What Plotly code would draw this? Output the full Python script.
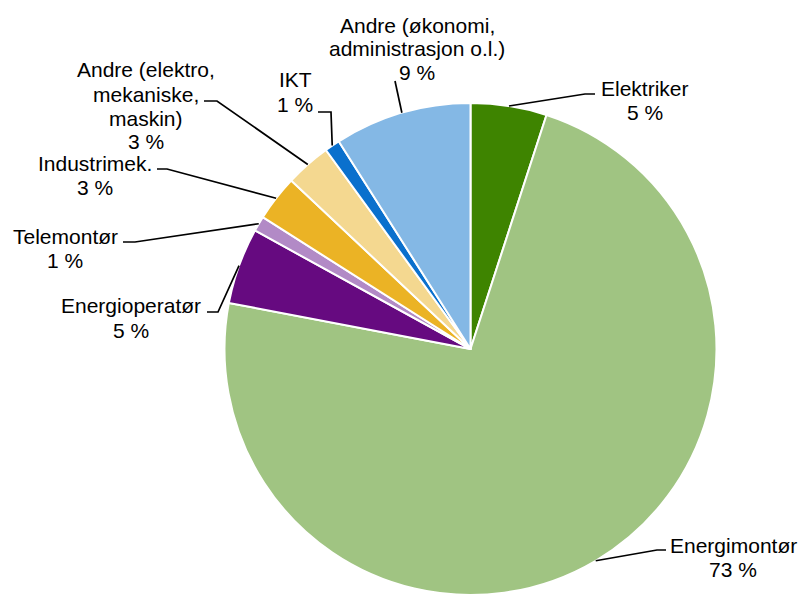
import math
import plotly.graph_objects as go

# ---- data ----
categories = ["Elektriker", "Energimontør", "Energioperatør", "Telemontør",
              "Industrimek.", "Andre (elektro, mekaniske, maskin)", "IKT",
              "Andre (økonomi, administrasjon o.l.)"]
label_lines = [["Elektriker"], ["Energimontør"], ["Energioperatør"], ["Telemontør"],
               ["Industrimek."], ["Andre (elektro,", "mekaniske,", "maskin)"], ["IKT"],
               ["Andre (økonomi,", "administrasjon o.l.)"]]
values = [5, 73, 5, 1, 3, 3, 1, 9]

# ---- styles / layout ----
colors = ["#3E8400", "#A0C482", "#660A80", "#B28AC6",
          "#EBB325", "#F4D890", "#0A70CD", "#84B8E5"]
PAGE_OFF = 8            # default body margin of the html page
W, H = 806 - PAGE_OFF, 595 - PAGE_OFF
CX, CY, R = 470.5, 349.0, 246.0   # page pixel coordinates
# label block: (center x, first line center y) in page pixels
label_pos = [(645, 88), (733, 545), (131, 306), (65, 236),
             (95, 163), (146, 70), (295, 80), (417, 25)]
# leader line: elbow point and end point in page pixels
leader_pts = [[(585, 94), (595, 94)], [(657, 550), (666, 550)],
              [(218, 312), (207, 312)], [(135, 242), (123, 242)],
              [(167, 169), (157, 169)], [(217, 101), (204, 101)],
              [(331, 112), (318, 112)], [(395, 81), (395, 81)]]
FONT = "Liberation Sans, Arial, sans-serif"
FS = 21
LINE_H = 24


def px(x):
    return (x - PAGE_OFF) / W


def py(y):
    return 1 - (y - PAGE_OFF) / H


fig = go.Figure(go.Pie(
    labels=categories, values=values, sort=False, direction="clockwise",
    rotation=0, textinfo="none", hoverinfo="label+percent",
    marker=dict(colors=colors, line=dict(color="white", width=2)),
    domain=dict(x=[px(CX - R), px(CX + R)], y=[0, py(CY - R)]),
    showlegend=False,
))

total = sum(values)
cum = 0.0
shapes = []
annotations = []
for i, v in enumerate(values):
    mid = (cum + v / 2) / total * 2 * math.pi
    cum += v
    ex = CX + R * math.sin(mid)
    ey = CY - R * math.cos(mid)
    (bx, by), (tx, ty) = leader_pts[i]
    path = f"M {px(ex)},{py(ey)} L {px(bx)},{py(by)} L {px(tx)},{py(ty)}"
    shapes.append(dict(type="path", path=path, xref="paper", yref="paper",
                       line=dict(color="black", width=1.7)))
    lines = label_lines[i] + [f"{v} %"]
    lx, ly = label_pos[i]
    for j, t in enumerate(lines):
        annotations.append(dict(
            text=t, x=px(lx), y=py(ly + j * LINE_H), xref="paper", yref="paper",
            xanchor="center", yanchor="middle", showarrow=False,
            font=dict(family=FONT, size=FS, color="black")))

fig.update_layout(
    width=W, height=H, margin=dict(l=0, r=0, t=0, b=0),
    paper_bgcolor="white", plot_bgcolor="white",
    shapes=shapes, annotations=annotations,
)

fig.write_html("out.html")
